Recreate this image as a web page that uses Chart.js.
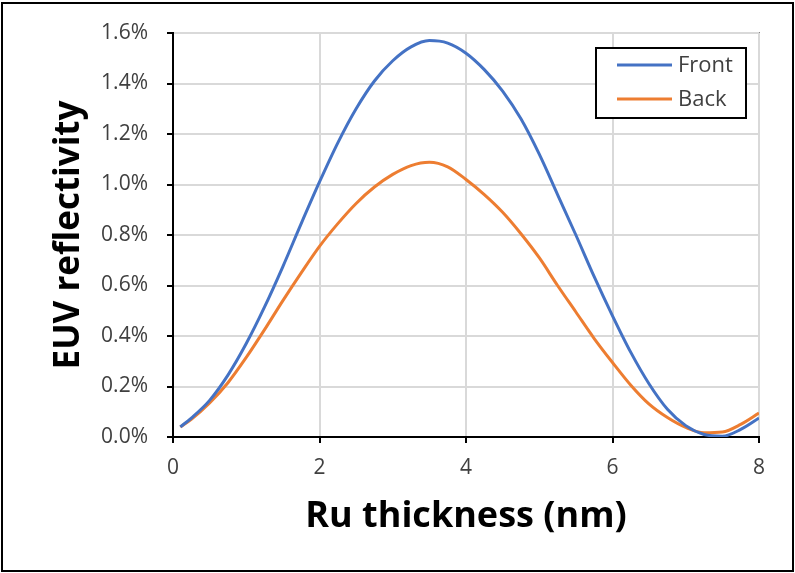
<!DOCTYPE html>
<html>
<head>
<meta charset="utf-8">
<script src="https://cdn.jsdelivr.net/npm/chart.js@4"></script>
<style>
  html, body { margin: 0; padding: 0; background: #fff; }
  #wrap { position: relative; width: 795px; height: 573px; }
</style>
</head>
<body>
<div id="wrap"><canvas id="chart"></canvas></div>
<script>
"use strict";

// Ru thickness (nm)
const THICKNESS = [0.1, 0.25, 0.5, 0.75, 1.0, 1.25, 1.5, 1.75, 2.0, 2.25, 2.5, 2.75,
  3.0, 3.25, 3.5, 3.75, 4.0, 4.25, 4.5, 4.75, 5.0, 5.25, 5.5, 5.75,
  6.0, 6.25, 6.5, 6.75, 7.0, 7.25, 7.5, 7.75, 8.0];

// EUV reflectivity (%)
const FRONT = [0.04, 0.075, 0.145, 0.245, 0.37, 0.515, 0.675, 0.845, 1.01, 1.165, 1.3, 1.41,
  1.49, 1.545, 1.57, 1.56, 1.52, 1.455, 1.37, 1.26, 1.12, 0.96, 0.8, 0.635,
  0.48, 0.335, 0.21, 0.11, 0.045, 0.01, 0.003, 0.03, 0.075];

const BACK = [0.04, 0.07, 0.135, 0.215, 0.315, 0.425, 0.54, 0.65, 0.755, 0.845, 0.925, 0.99,
  1.04, 1.075, 1.088, 1.07, 1.02, 0.96, 0.89, 0.805, 0.71, 0.6, 0.495, 0.39,
  0.295, 0.205, 0.13, 0.077, 0.038, 0.017, 0.02, 0.05, 0.095];

const SERIES_LABELS = ["Front", "Back"];
const SERIES_COLORS = ["#4472C4", "#ED7D31"];

const X_TICKS = [0, 2, 4, 6, 8];
const Y_TICKS = [0, 0.2, 0.4, 0.6, 0.8, 1.0, 1.2, 1.4, 1.6];

const FONT = "'Open Sans', 'DejaVu Sans', sans-serif";
const TEXT = "#404040";

function toPoints(ys) {
  return THICKNESS.map((x, i) => ({ x, y: ys[i] }));
}

// frame round the whole picture, plot border, and the boxed legend
const decor = {
  id: "decor",
  beforeDraw(chart) {
    const { ctx, chartArea: a } = chart;
    ctx.save();
    ctx.strokeStyle = "#262626";
    ctx.lineWidth = 1.5;
    ctx.beginPath();
    ctx.moveTo(a.left, a.top);
    ctx.lineTo(a.right, a.top);
    ctx.lineTo(a.right, a.bottom);
    ctx.stroke();
    ctx.restore();
  },
  afterDraw(chart) {
    const { ctx } = chart;
    ctx.save();
    ctx.strokeStyle = "#000";
    ctx.lineWidth = 2;
    ctx.strokeRect(2, 3, 791, 568);

    const bx = 596, by = 48, bw = 150, bh = 70;
    ctx.fillStyle = "#fff";
    ctx.fillRect(bx, by, bw, bh);
    ctx.strokeRect(bx, by, bw, bh);

    ctx.font = `22px ${FONT}`;
    ctx.textBaseline = "middle";
    ctx.textAlign = "left";
    chart.data.datasets.forEach((ds, i) => {
      const y = 65 + i * 34;
      ctx.strokeStyle = ds.borderColor;
      ctx.lineWidth = 3;
      ctx.beginPath();
      ctx.moveTo(617, y);
      ctx.lineTo(672, y);
      ctx.stroke();
      ctx.fillStyle = TEXT;
      ctx.fillText(ds.label, 678, y + 1);
    });
    ctx.restore();
  },
};

new Chart(document.getElementById("chart"), {
  type: "line",
  data: {
    datasets: [
      {
        label: SERIES_LABELS[0],
        data: toPoints(FRONT),
        borderColor: SERIES_COLORS[0],
        backgroundColor: SERIES_COLORS[0],
        borderWidth: 3,
        pointRadius: 0,
        cubicInterpolationMode: "monotone",
      },
      {
        label: SERIES_LABELS[1],
        data: toPoints(BACK),
        borderColor: SERIES_COLORS[1],
        backgroundColor: SERIES_COLORS[1],
        borderWidth: 3,
        pointRadius: 0,
        cubicInterpolationMode: "monotone",
      },
    ],
  },
  options: {
    responsive: true,
    maintainAspectRatio: false,
    animation: false,
    layout: { padding: { left: 0, right: 36, top: 33, bottom: 0 } },
    plugins: {
      legend: { display: false },
      tooltip: { enabled: false },
    },
    scales: {
      x: {
        type: "linear",
        min: 0,
        max: 8,
        afterFit: (s) => { s.height = 136; },
        afterBuildTicks: (s) => { s.ticks = X_TICKS.map((v) => ({ value: v })); },
        grid: { color: "#d9d9d9", lineWidth: 2, tickColor: "#000", tickWidth: 2, tickLength: 6 },
        border: { color: "#000", width: 2 },
        ticks: { color: TEXT, font: { family: FONT, size: 21 }, padding: 12, maxRotation: 0 },
        title: {
          display: true,
          text: "Ru thickness (nm)",
          color: "#000",
          font: { family: FONT, size: 36, weight: "bold" },
          padding: { top: 0, bottom: 35 },
        },
      },
      y: {
        type: "linear",
        min: 0,
        max: 1.6,
        afterFit: (s) => { s.width = 173; },
        afterBuildTicks: (s) => { s.ticks = Y_TICKS.map((v) => ({ value: v })); },
        grid: { color: "#d9d9d9", lineWidth: 2, tickColor: "#000", tickWidth: 2, tickLength: 6 },
        border: { color: "#000", width: 2 },
        ticks: {
          color: TEXT,
          font: { family: FONT, size: 21 },
          padding: 19,
          callback: (v) => `${v.toFixed(1)}%`,
        },
        title: {
          display: true,
          text: "EUV reflectivity",
          color: "#000",
          font: { family: FONT, size: 35, weight: "bold" },
          padding: { top: 48, bottom: 0 },
        },
      },
    },
  },
  plugins: [decor],
});
</script>
</body>
</html>
